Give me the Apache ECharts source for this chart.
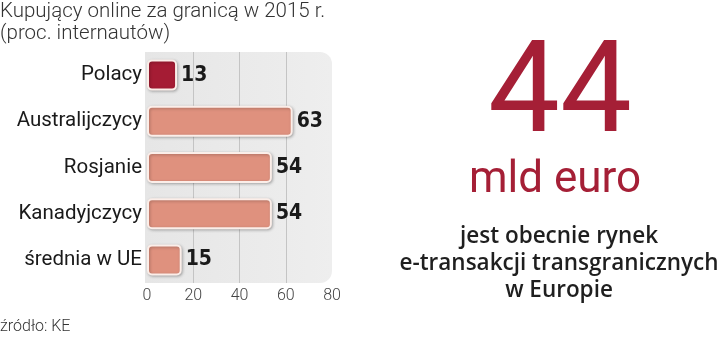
<!DOCTYPE html>
<html><head><meta charset="utf-8">
<script src="https://cdn.jsdelivr.net/npm/echarts@6/dist/echarts.min.js"></script>
<style>html,body{margin:0;padding:0;background:#fff}#c{width:720px;height:341px}</style>
</head><body><div id="c"></div>
<script>
const categories = ['Polacy', 'Australijczycy', 'Rosjanie', 'Kanadyjczycy', 'średnia w UE'];
const values = [13, 63, 54, 54, 15];
const highlight = [true, false, false, false, false];
const axisMin = 0, axisMax = 80, axisStep = 20;
const titleLines = ['Kupujący online za granicą w 2015 r.', '(proc. internautów)'];
const source = 'źródło: KE';
const bigNumber = '44';
const bigUnit = 'mld euro';
const descLines = ['jest obecnie rynek', 'e-transakcji transgranicznych', 'w Europie'];

const G = {left: 147, right: 388, top: 52, bottom: 58};
const W = 720, H = 341;
const chart = echarts.init(document.getElementById('c'), null, {renderer: 'canvas'});
chart.setOption({
  animation: false,
  backgroundColor: '#fff',
  grid: {left: G.left, right: G.right, top: G.top, bottom: G.bottom, containLabel: false},
  graphic: [
    {type: 'rect', z: -10, shape: {x: G.left - 2, y: G.top, width: W - G.left - G.right + 2, height: H - G.top - G.bottom, r: [0, 12, 12, 0]},
     style: {fill: new echarts.graphic.LinearGradient(0, 0, 1, 0, [{offset: 0, color: '#e6e6e6'}, {offset: 1, color: '#eeeeee'}])}},
    {type: 'text', left: 0, top: 1, style: {text: titleLines.join('\n'), fontFamily: 'Roboto', fontWeight: 300, fontSize: 20.5, lineHeight: 22, fill: '#333'}},
    {type: 'text', left: 0, top: 319, style: {text: source, fontFamily: 'Roboto', fontWeight: 300, fontSize: 16, fill: '#333'}},
    {type: 'text', x: 560, y: 99, style: {text: bigNumber, fontFamily: 'Roboto', fontWeight: 400, fontSize: 128, fill: '#a51f36', align: 'center', verticalAlign: 'middle'}},
    {type: 'text', x: 555, y: 181, style: {text: bigUnit, fontFamily: 'Roboto', fontWeight: 400, fontSize: 44, fill: '#a51f36', align: 'center', verticalAlign: 'middle'}},
    {type: 'text', x: 559, y: 264, style: {text: descLines.join('\n'), fontFamily: 'Open Sans', fontWeight: 600, fontSize: 22.5, lineHeight: 27, fill: '#1f1f1f', align: 'center', verticalAlign: 'middle'}}
  ],
  xAxis: {
    type: 'value', min: axisMin, max: axisMax, interval: axisStep,
    axisLine: {show: false}, axisTick: {show: false},
    axisLabel: {color: '#444', fontFamily: 'Roboto', fontWeight: 300, fontSize: 16, margin: 5},
    splitLine: {show: true, lineStyle: {color: ['rgba(0,0,0,0)', '#c4c4c4', '#c4c4c4', '#c4c4c4', 'rgba(0,0,0,0)'], width: 1}}
  },
  yAxis: {
    type: 'category', data: categories, inverse: true,
    axisLine: {show: false}, axisTick: {show: false},
    axisLabel: {color: '#1a1a1a', fontFamily: 'Roboto', fontSize: 20.5, margin: 5}
  },
  series: [{
    type: 'bar', barWidth: 31,
    data: values.map((v, i) => ({value: v, itemStyle: {color: highlight[i] ? '#a51c34' : '#df917e'}})),
    itemStyle: {borderColor: '#fbeee9', borderWidth: 2, borderRadius: 4, shadowColor: 'rgba(0,0,0,0.25)', shadowBlur: 3, shadowOffsetX: 1, shadowOffsetY: 1},
    label: {show: true, position: 'right', distance: 4, color: '#1a1a1a', fontFamily: 'DejaVu Sans Condensed', fontWeight: 'bold', fontSize: 21}
  }]
});
</script></body></html>
